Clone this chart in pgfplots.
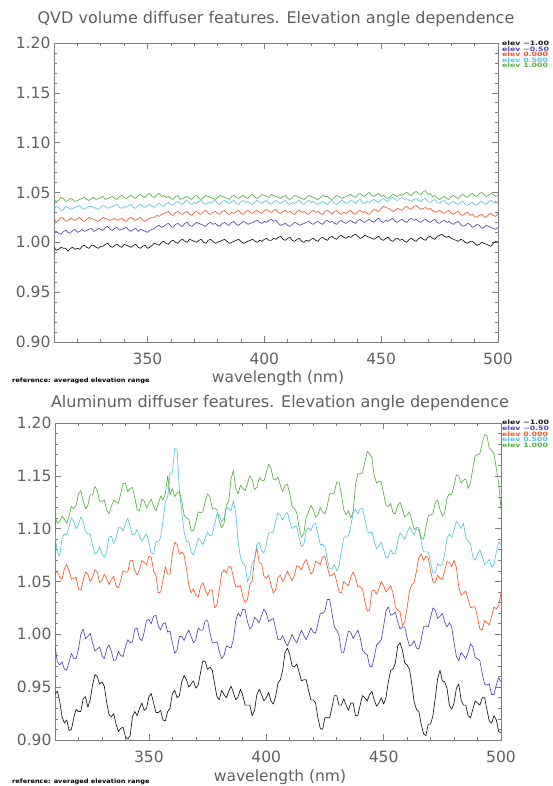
\documentclass[border=0pt]{standalone}
\usepackage{fontspec}
\setmainfont{DejaVu Sans}
\usepackage{graphicx}
\usepackage{pgfplots}
\pgfplotsset{compat=1.18}
\usepackage{pgfplotstable}

\definecolor{ek}{RGB}{20,20,20}
\definecolor{eb}{RGB}{78,72,175}
\definecolor{eo}{RGB}{235,90,45}
\definecolor{ec}{RGB}{85,195,225}
\definecolor{eg}{RGB}{85,175,65}
\definecolor{axgray}{RGB}{125,125,125}
\definecolor{txtgray}{RGB}{95,95,95}

% QVD volume diffuser: wavelength, elev -1.00, -0.50, 0.000, 0.500, 1.000
\pgfplotstableread{
wl k b o c g
310 0.995 1.010 1.023 1.034 1.043
311 0.992 1.011 1.021 1.036 1.041
312 0.993 1.009 1.022 1.035 1.042
313 0.995 1.008 1.025 1.032 1.045
314 0.994 1.011 1.024 1.033 1.044
315 0.994 1.012 1.021 1.036 1.041
316 0.991 1.010 1.022 1.035 1.042
317 0.994 1.009 1.024 1.033 1.044
318 0.995 1.012 1.023 1.034 1.043
319 0.993 1.013 1.022 1.035 1.041
320 0.994 1.010 1.024 1.036 1.042
321 0.993 1.011 1.025 1.037 1.043
322 0.996 1.013 1.022 1.034 1.044
323 0.997 1.011 1.021 1.033 1.045
324 0.995 1.012 1.023 1.035 1.043
325 0.994 1.013 1.025 1.036 1.042
326 0.997 1.014 1.024 1.036 1.044
327 0.997 1.011 1.023 1.035 1.045
328 0.995 1.012 1.022 1.034 1.043
329 0.994 1.014 1.021 1.033 1.044
330 0.996 1.013 1.023 1.035 1.045
331 0.996 1.012 1.025 1.037 1.046
332 0.998 1.015 1.024 1.036 1.043
333 0.999 1.016 1.023 1.034 1.044
334 0.996 1.013 1.022 1.035 1.045
335 0.995 1.012 1.023 1.036 1.046
336 0.997 1.014 1.024 1.037 1.044
337 0.998 1.015 1.022 1.038 1.043
338 0.996 1.012 1.023 1.035 1.046
339 0.995 1.013 1.024 1.034 1.047
340 0.998 1.014 1.022 1.036 1.045
341 0.997 1.015 1.021 1.035 1.044
342 0.996 1.012 1.024 1.037 1.046
343 0.995 1.011 1.025 1.038 1.047
344 0.997 1.013 1.023 1.035 1.045
345 0.998 1.014 1.022 1.034 1.044
346 0.995 1.011 1.024 1.037 1.047
347 0.994 1.013 1.025 1.038 1.048
348 0.996 1.012 1.022 1.036 1.046
349 0.997 1.011 1.021 1.035 1.045
350 0.994 1.010 1.023 1.037 1.048
351 0.995 1.012 1.024 1.038 1.049
352 0.997 1.013 1.025 1.036 1.046
353 0.999 1.014 1.025 1.035 1.045
354 0.998 1.016 1.027 1.038 1.048
355 0.997 1.017 1.026 1.039 1.049
356 1.000 1.015 1.028 1.037 1.046
357 1.001 1.016 1.029 1.036 1.047
358 0.999 1.018 1.030 1.039 1.045
359 0.998 1.019 1.031 1.040 1.046
360 1.001 1.016 1.028 1.038 1.044
361 1.002 1.015 1.027 1.037 1.043
362 1.000 1.018 1.030 1.040 1.046
363 0.999 1.019 1.031 1.041 1.047
364 1.002 1.017 1.029 1.039 1.043
365 1.003 1.016 1.028 1.038 1.044
366 1.001 1.019 1.030 1.041 1.045
367 1.000 1.020 1.031 1.042 1.046
368 1.003 1.017 1.028 1.039 1.044
369 1.002 1.016 1.027 1.038 1.043
370 1.001 1.018 1.030 1.040 1.046
371 1.000 1.020 1.031 1.039 1.047
372 1.002 1.019 1.029 1.041 1.044
373 1.003 1.018 1.028 1.042 1.043
374 1.000 1.017 1.031 1.039 1.045
375 0.999 1.016 1.032 1.038 1.047
376 1.002 1.019 1.029 1.040 1.046
377 1.003 1.020 1.028 1.039 1.045
378 1.001 1.018 1.030 1.041 1.044
379 0.999 1.019 1.031 1.042 1.043
380 1.000 1.017 1.029 1.039 1.045
381 1.001 1.016 1.028 1.038 1.047
382 1.002 1.019 1.031 1.041 1.046
383 1.003 1.020 1.032 1.042 1.045
384 1.001 1.018 1.029 1.040 1.044
385 0.999 1.017 1.028 1.039 1.043
386 1.000 1.020 1.030 1.041 1.046
387 1.001 1.021 1.029 1.042 1.047
388 1.002 1.018 1.031 1.039 1.045
389 1.003 1.017 1.032 1.038 1.044
390 1.001 1.019 1.029 1.041 1.046
391 0.999 1.021 1.028 1.042 1.047
392 1.000 1.020 1.031 1.040 1.045
393 1.001 1.018 1.032 1.041 1.044
394 1.002 1.019 1.030 1.039 1.047
395 1.003 1.020 1.029 1.038 1.048
396 1.001 1.021 1.031 1.041 1.045
397 1.000 1.022 1.032 1.042 1.044
398 1.002 1.020 1.030 1.040 1.046
399 1.001 1.019 1.029 1.039 1.048
400 1.003 1.021 1.032 1.041 1.047
401 1.004 1.020 1.033 1.042 1.046
402 1.002 1.022 1.031 1.039 1.045
403 1.002 1.023 1.030 1.038 1.048
404 1.004 1.021 1.032 1.041 1.047
405 1.003 1.022 1.033 1.042 1.046
406 1.005 1.019 1.030 1.040 1.045
407 1.006 1.017 1.029 1.039 1.044
408 1.003 1.018 1.031 1.041 1.046
409 1.002 1.019 1.032 1.042 1.047
410 1.004 1.017 1.030 1.039 1.044
411 1.005 1.016 1.031 1.038 1.043
412 1.002 1.018 1.029 1.040 1.045
413 1.001 1.020 1.028 1.039 1.047
414 1.003 1.019 1.031 1.041 1.046
415 1.004 1.017 1.032 1.042 1.045
416 1.001 1.018 1.030 1.039 1.044
417 1.000 1.019 1.031 1.038 1.043
418 1.002 1.020 1.029 1.041 1.045
419 1.001 1.021 1.028 1.042 1.047
420 1.003 1.019 1.031 1.040 1.046
421 1.004 1.018 1.032 1.041 1.045
422 1.002 1.020 1.030 1.039 1.044
423 1.001 1.021 1.031 1.038 1.043
424 1.004 1.019 1.029 1.040 1.045
425 1.005 1.018 1.028 1.041 1.047
426 1.003 1.021 1.031 1.039 1.046
427 1.002 1.022 1.032 1.038 1.046
428 1.005 1.020 1.030 1.041 1.044
429 1.006 1.021 1.028 1.042 1.043
430 1.004 1.019 1.031 1.039 1.045
431 1.003 1.018 1.032 1.038 1.047
432 1.006 1.021 1.029 1.040 1.046
433 1.007 1.022 1.028 1.042 1.044
434 1.005 1.020 1.030 1.041 1.045
435 1.004 1.019 1.029 1.039 1.046
436 1.006 1.021 1.031 1.040 1.047
437 1.005 1.022 1.032 1.042 1.048
438 1.007 1.020 1.029 1.041 1.046
439 1.008 1.019 1.028 1.039 1.045
440 1.006 1.022 1.031 1.042 1.048
441 1.004 1.023 1.032 1.043 1.049
442 1.005 1.021 1.030 1.040 1.047
443 1.007 1.020 1.031 1.039 1.046
444 1.006 1.022 1.029 1.041 1.049
445 1.005 1.023 1.028 1.040 1.050
446 1.004 1.021 1.031 1.042 1.047
447 1.003 1.020 1.033 1.043 1.046
448 1.005 1.023 1.032 1.041 1.048
449 1.006 1.024 1.031 1.040 1.049
450 1.003 1.021 1.034 1.043 1.046
451 1.002 1.020 1.036 1.044 1.047
452 1.004 1.022 1.035 1.042 1.045
453 1.005 1.021 1.034 1.041 1.044
454 1.002 1.023 1.033 1.044 1.046
455 1.001 1.024 1.031 1.045 1.048
456 1.003 1.021 1.032 1.043 1.047
457 1.004 1.020 1.034 1.042 1.046
458 1.002 1.022 1.033 1.044 1.048
459 1.003 1.023 1.032 1.045 1.047
460 1.001 1.021 1.035 1.043 1.049
461 1.000 1.020 1.036 1.044 1.050
462 1.003 1.023 1.034 1.042 1.048
463 1.004 1.024 1.033 1.041 1.047
464 1.002 1.022 1.036 1.043 1.050
465 1.001 1.023 1.037 1.044 1.051
466 1.004 1.021 1.035 1.042 1.049
467 1.005 1.020 1.033 1.041 1.048
468 1.003 1.022 1.034 1.043 1.051
469 1.002 1.023 1.035 1.044 1.052
470 1.005 1.021 1.033 1.041 1.048
471 1.006 1.020 1.034 1.040 1.049
472 1.004 1.022 1.032 1.042 1.046
473 1.003 1.023 1.030 1.043 1.047
474 1.006 1.020 1.031 1.040 1.044
475 1.007 1.019 1.032 1.039 1.043
476 1.008 1.021 1.030 1.041 1.045
477 1.006 1.022 1.029 1.042 1.046
478 1.005 1.020 1.031 1.039 1.044
479 1.006 1.021 1.032 1.038 1.043
480 1.004 1.019 1.029 1.040 1.046
481 1.003 1.018 1.028 1.041 1.047
482 1.002 1.020 1.030 1.039 1.045
483 1.001 1.021 1.031 1.038 1.044
484 1.003 1.018 1.028 1.040 1.047
485 1.002 1.016 1.027 1.041 1.048
486 1.000 1.017 1.029 1.038 1.046
487 0.999 1.019 1.030 1.037 1.045
488 1.001 1.018 1.027 1.039 1.048
489 1.001 1.015 1.028 1.040 1.049
490 0.999 1.016 1.026 1.038 1.047
491 0.997 1.018 1.025 1.037 1.046
492 0.998 1.017 1.027 1.040 1.049
493 1.000 1.014 1.028 1.041 1.050
494 0.999 1.015 1.026 1.039 1.048
495 0.998 1.017 1.025 1.038 1.046
496 0.997 1.016 1.028 1.041 1.047
497 0.996 1.015 1.029 1.042 1.049
498 0.999 1.014 1.027 1.040 1.048
499 1.001 1.013 1.026 1.041 1.046
500 1.000 1.015 1.029 1.039 1.047
}\qvddata

% Aluminum diffuser
\pgfplotstableread{
wl k b o c g
310 0.944 0.989 1.057 1.095 1.112
311 0.946 0.974 1.060 1.077 1.105
312 0.937 0.971 1.054 1.074 1.107
313 0.922 0.974 1.052 1.091 1.112
314 0.916 0.967 1.062 1.095 1.109
315 0.919 0.966 1.066 1.094 1.105
316 0.909 0.974 1.060 1.102 1.112
317 0.910 0.982 1.052 1.110 1.121
318 0.921 0.977 1.053 1.107 1.119
319 0.929 0.977 1.054 1.100 1.122
320 0.927 0.986 1.043 1.104 1.133
321 0.927 1.000 1.042 1.111 1.136
322 0.939 1.005 1.051 1.107 1.126
323 0.941 0.996 1.059 1.097 1.119
324 0.931 0.998 1.057 1.095 1.122
325 0.938 1.001 1.050 1.095 1.132
326 0.952 0.992 1.054 1.084 1.132
327 0.962 0.984 1.061 1.076 1.140
328 0.960 0.986 1.059 1.078 1.136
329 0.953 0.988 1.049 1.083 1.126
330 0.955 0.980 1.051 1.076 1.126
331 0.951 0.977 1.057 1.073 1.127
332 0.936 0.986 1.053 1.078 1.118
333 0.924 0.990 1.047 1.092 1.114
334 0.922 0.984 1.052 1.093 1.121
335 0.925 0.975 1.055 1.086 1.127
336 0.915 0.976 1.046 1.091 1.125
337 0.908 0.984 1.044 1.101 1.124
338 0.911 0.980 1.051 1.101 1.133
339 0.912 0.979 1.060 1.098 1.143
340 0.903 0.988 1.059 1.105 1.143
341 0.901 0.995 1.059 1.110 1.135
342 0.904 0.992 1.070 1.102 1.138
343 0.922 0.993 1.070 1.094 1.139
344 0.927 1.005 1.060 1.095 1.129
345 0.923 1.006 1.056 1.099 1.118
346 0.930 0.996 1.061 1.093 1.117
347 0.935 0.994 1.070 1.088 1.128
348 0.928 1.002 1.068 1.092 1.126
349 0.930 1.013 1.066 1.095 1.120
350 0.941 1.014 1.074 1.087 1.124
351 0.944 1.010 1.073 1.077 1.128
352 0.935 1.017 1.060 1.076 1.121
353 0.926 1.018 1.056 1.088 1.117
354 0.926 1.008 1.039 1.087 1.123
355 0.928 1.004 1.040 1.092 1.131
356 0.919 1.010 1.051 1.107 1.127
357 0.918 1.011 1.064 1.125 1.133
358 0.927 1.002 1.057 1.130 1.150
359 0.930 1.003 1.057 1.152 1.132
360 0.944 0.992 1.076 1.153 1.138
361 0.947 0.982 1.087 1.176 1.130
362 0.940 0.985 1.085 1.175 1.134
363 0.942 0.998 1.076 1.136 1.135
364 0.955 0.998 1.078 1.116 1.126
365 0.961 0.994 1.075 1.097 1.113
366 0.957 1.000 1.062 1.088 1.110
367 0.950 1.004 1.047 1.088 1.109
368 0.953 0.998 1.039 1.078 1.098
369 0.956 0.992 1.043 1.075 1.098
370 0.949 0.995 1.037 1.082 1.106
371 0.952 1.006 1.035 1.091 1.116
372 0.964 1.004 1.045 1.088 1.115
373 0.975 1.004 1.049 1.085 1.116
374 0.974 1.013 1.042 1.091 1.126
375 0.967 1.013 1.037 1.097 1.133
376 0.969 1.002 1.042 1.093 1.130
377 0.966 0.992 1.042 1.094 1.119
378 0.953 0.992 1.025 1.104 1.119
379 0.941 0.993 1.028 1.114 1.118
380 0.938 0.984 1.042 1.113 1.107
381 0.947 0.977 1.058 1.106 1.101
382 0.943 0.980 1.061 1.110 1.105
383 0.940 0.989 1.058 1.120 1.122
384 0.946 0.988 1.064 1.119 1.126
385 0.951 0.987 1.064 1.117 1.147
386 0.945 0.995 1.054 1.126 1.155
387 0.938 1.013 1.045 1.115 1.138
388 0.941 1.020 1.045 1.088 1.133
389 0.948 1.017 1.046 1.073 1.141
390 0.942 1.024 1.036 1.067 1.138
391 0.933 1.023 1.030 1.065 1.136
392 0.933 1.012 1.033 1.050 1.143
393 0.933 1.005 1.047 1.055 1.150
394 0.923 1.008 1.051 1.067 1.146
395 0.928 1.016 1.071 1.071 1.137
396 0.943 1.014 1.082 1.085 1.139
397 0.948 1.011 1.068 1.087 1.148
398 0.943 1.018 1.067 1.079 1.146
399 0.937 1.024 1.055 1.077 1.145
400 0.940 1.020 1.053 1.085 1.153
401 0.945 1.012 1.056 1.096 1.161
402 0.937 1.014 1.047 1.096 1.157
403 0.934 1.015 1.039 1.097 1.147
404 0.941 1.005 1.042 1.107 1.146
405 0.954 0.995 1.054 1.115 1.149
406 0.957 0.995 1.056 1.113 1.141
407 0.966 0.999 1.050 1.108 1.135
408 0.983 0.993 1.054 1.113 1.141
409 0.987 0.989 1.060 1.115 1.142
410 0.981 0.994 1.055 1.107 1.133
411 0.970 1.000 1.051 1.100 1.121
412 0.969 0.995 1.056 1.102 1.119
413 0.972 0.992 1.065 1.102 1.115
414 0.964 0.998 1.064 1.091 1.101
415 0.956 1.004 1.061 1.083 1.092
416 0.957 0.999 1.067 1.085 1.095
417 0.957 0.995 1.071 1.098 1.111
418 0.947 1.000 1.064 1.101 1.116
419 0.938 1.006 1.057 1.098 1.122
420 0.938 1.002 1.060 1.104 1.118
421 0.935 1.001 1.069 1.105 1.111
422 0.921 1.010 1.068 1.095 1.113
423 0.911 1.020 1.066 1.085 1.120
424 0.910 1.020 1.073 1.085 1.116
425 0.921 1.022 1.074 1.083 1.114
426 0.921 1.033 1.064 1.071 1.122
427 0.921 1.033 1.055 1.062 1.133
428 0.931 1.020 1.056 1.062 1.133
429 0.942 1.007 1.058 1.066 1.134
430 0.942 1.004 1.050 1.060 1.144
431 0.933 0.999 1.040 1.065 1.144
432 0.933 0.983 1.039 1.079 1.133
433 0.939 0.983 1.050 1.091 1.118
434 0.933 0.993 1.048 1.093 1.113
435 0.928 1.003 1.046 1.093 1.117
436 0.935 1.002 1.054 1.102 1.110
437 0.935 0.996 1.059 1.115 1.116
438 0.923 1.000 1.054 1.118 1.141
439 0.923 1.004 1.045 1.114 1.152
440 0.933 0.997 1.045 1.119 1.152
441 0.942 0.985 1.043 1.119 1.153
442 0.940 0.982 1.031 1.109 1.163
443 0.937 0.981 1.022 1.098 1.173
444 0.943 0.970 1.023 1.096 1.171
445 0.946 0.969 1.041 1.097 1.167
446 0.938 0.978 1.042 1.088 1.150
447 0.932 0.990 1.038 1.081 1.143
448 0.935 0.992 1.043 1.084 1.145
449 0.940 0.995 1.050 1.087 1.144
450 0.934 1.008 1.046 1.080 1.133
451 0.940 1.022 1.040 1.072 1.122
452 0.955 1.026 1.043 1.073 1.121
453 0.966 1.018 1.046 1.080 1.124
454 0.967 1.019 1.039 1.076 1.115
455 0.973 1.021 1.026 1.077 1.114
456 0.989 1.012 1.023 1.088 1.122
457 0.992 1.005 1.021 1.096 1.125
458 0.985 1.007 1.008 1.093 1.118
459 0.973 1.007 1.012 1.090 1.111
460 0.971 0.997 1.025 1.096 1.113
461 0.967 0.989 1.041 1.102 1.116
462 0.953 0.990 1.047 1.098 1.108
463 0.936 0.994 1.049 1.094 1.099
464 0.929 0.987 1.060 1.100 1.101
465 0.927 0.986 1.073 1.099 1.101
466 0.915 0.995 1.076 1.088 1.091
467 0.906 1.007 1.070 1.078 1.090
468 0.904 1.008 1.074 1.078 1.101
469 0.915 1.007 1.072 1.078 1.112
470 0.915 1.016 1.060 1.068 1.113
471 0.923 1.025 1.050 1.058 1.114
472 0.940 1.023 1.049 1.058 1.125
473 0.958 1.015 1.056 1.067 1.127
474 0.966 1.017 1.053 1.065 1.118
475 0.956 1.020 1.052 1.066 1.112
476 0.955 1.012 1.060 1.076 1.115
477 0.949 1.007 1.069 1.091 1.129
478 0.933 1.011 1.068 1.095 1.133
479 0.929 1.007 1.064 1.092 1.132
480 0.935 0.992 1.070 1.099 1.141
481 0.949 0.979 1.063 1.107 1.151
482 0.953 0.975 1.045 1.104 1.150
483 0.938 0.983 1.037 1.100 1.143
484 0.933 0.980 1.039 1.105 1.146
485 0.933 0.977 1.041 1.092 1.147
486 0.923 0.983 1.033 1.088 1.138
487 0.921 0.991 1.025 1.086 1.143
488 0.929 0.988 1.026 1.073 1.157
489 0.937 0.978 1.026 1.070 1.169
490 0.935 0.977 1.016 1.076 1.170
491 0.933 0.975 1.005 1.080 1.171
492 0.940 0.963 1.004 1.074 1.181
493 0.940 0.953 1.013 1.066 1.189
494 0.929 0.952 1.011 1.068 1.188
495 0.918 0.953 1.009 1.071 1.176
496 0.916 0.943 1.017 1.064 1.174
497 0.923 0.943 1.026 1.066 1.171
498 0.919 0.952 1.024 1.078 1.157
499 0.908 0.959 1.027 1.087 1.143
500 0.907 0.955 1.039 1.085 1.119
}\aludata

\pgfplotsset{
  panel/.style={
    scale only axis,
    xmin=310, xmax=500, ymin=0.90, ymax=1.20,
    xtick={350,400,450,500},
    minor xtick={310,320,330,340,360,370,380,390,410,420,430,440,460,470,480,490},
    ytick={0.90,0.95,1.00,1.05,1.10,1.15,1.20},
    minor y tick num=4,
    tick align=inside, tick pos=both,
    major tick length=6pt, minor tick length=3pt,
    axis line style={axgray, line width=0.8pt},
    every tick/.style={axgray, line width=0.6pt},
    /pgf/number format/assume math mode=true,
    tick label style={font=\fontsize{15.5}{15.5}\selectfont, text=txtgray},
    yticklabel style={/pgf/number format/fixed, /pgf/number format/fixed zerofill,
      /pgf/number format/precision=2},
    xticklabel style={yshift=-7pt},
    every axis plot/.append style={line width=0.65pt, line join=round},
  },
}
\tikzset{leg/.style={anchor=west, inner sep=0pt, font=\bfseries\fontsize{6}{6}\selectfont}}

\begin{document}
\begin{tikzpicture}
\path[use as bounding box] (0,0) rectangle (552pt,786pt);

\begin{axis}[panel, width=444pt, height=299pt, at={(54pt,743pt)}, anchor=north west]
\addplot[ek] table[x=wl, y=k] {\qvddata};
\addplot[eb] table[x=wl, y=b] {\qvddata};
\addplot[eo] table[x=wl, y=o] {\qvddata};
\addplot[ec] table[x=wl, y=c] {\qvddata};
\addplot[eg] table[x=wl, y=g] {\qvddata};
\end{axis}

\begin{axis}[panel, width=446pt, height=317pt, at={(55pt,363pt)}, anchor=north west]
\addplot[ek] table[x=wl, y=k] {\aludata};
\addplot[eb] table[x=wl, y=b] {\aludata};
\addplot[eo] table[x=wl, y=o] {\aludata};
\addplot[ec] table[x=wl, y=c] {\aludata};
\addplot[eg] table[x=wl, y=g] {\aludata};
\end{axis}

% titles and labels
\node[font=\fontsize{16}{16}\selectfont, text=txtgray] at (276pt,767pt)
  {QVD volume diffuser features. Elevation angle dependence};
\node[font=\fontsize{16}{16}\selectfont, text=txtgray] at (280pt,383pt)
  {Aluminum diffuser features. Elevation angle dependence};
\node[font=\fontsize{15.5}{15.5}\selectfont, text=txtgray] at (278pt,408pt) {wavelength (nm)};
\node[font=\fontsize{15.5}{15.5}\selectfont, text=txtgray] at (280pt,9pt) {wavelength (nm)};
\node[leg, text=black] at (12pt,405pt) {\scalebox{1.1}[1]{reference: averaged elevation range}};
\node[leg, text=black] at (12pt,4pt) {\scalebox{1.1}[1]{reference: averaged elevation range}};

% legends
\foreach \yy/\yb/\col/\lab in {742.7/363.7/ek/elev −1.00, 737.0/357.7/eb/elev −0.50,
    731.7/352.0/eo/elev 0.000, 726.0/346.7/ec/elev 0.500, 720.3/340.3/eg/elev 1.000} {
  \node[leg, text=\col] at (502pt,\yy pt) {\scalebox{1.3}[1]{\lab}};
  \node[leg, text=\col] at (502pt,\yb pt) {\scalebox{1.3}[1]{\lab}};
}
\end{tikzpicture}
\end{document}
